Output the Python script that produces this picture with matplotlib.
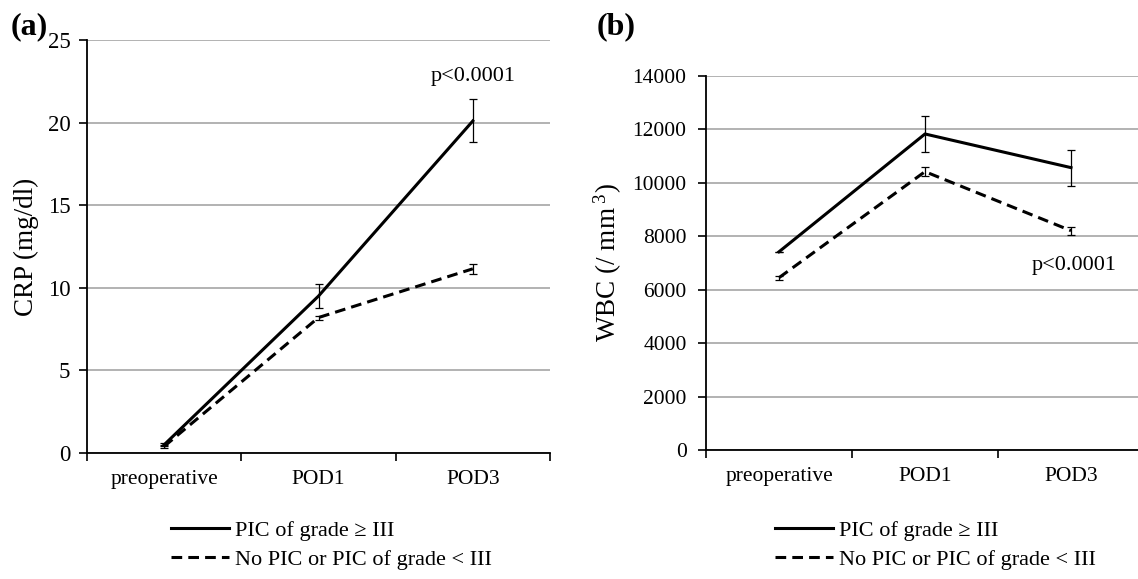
import matplotlib
matplotlib.use("Agg")
import matplotlib.pyplot as plt
import numpy as np

plt.rcParams['font.family'] = ['Liberation Serif', 'DejaVu Serif']
plt.rcParams['mathtext.fontset'] = 'custom'
plt.rcParams['mathtext.rm'] = 'Liberation Serif'
plt.rcParams['mathtext.it'] = 'Liberation Serif:italic'

categories = ["preoperative", "POD1", "POD3"]
series_labels = ["PIC of grade \u2265 III", "No PIC or PIC of grade < III"]

crp_high = [0.5, 9.5, 20.1]
crp_high_err = [0.1, 0.7, 1.3]
crp_low = [0.4, 8.2, 11.15]
crp_low_err = [0.1, 0.12, 0.3]

wbc_high = [7420, 11830, 10570]
wbc_high_err = [0, 680, 675]
wbc_low = [6450, 10420, 8210]
wbc_low_err = [70, 180, 150]

crp_ticks = [0, 5, 10, 15, 20, 25]
wbc_ticks = [0, 2000, 4000, 6000, 8000, 10000, 12000, 14000]

fig = plt.figure(figsize=(11.38, 5.79), dpi=100)
W, H = 1138, 579

def axes_px(l, r, t, b):
    return fig.add_axes([l / W, 1 - b / H, (r - l) / W, (b - t) / H])

ax_a = axes_px(87, 550, 40, 453)
ax_b = axes_px(706, 1144, 76, 450)

def style(ax, ticks, tick_fs, ypad):
    x = np.arange(len(categories)) + 0.5
    ax.set_xlim(0, len(categories))
    ax.set_ylim(ticks[0], ticks[-1])
    ax.set_yticks(ticks)
    ax.set_yticklabels([str(t) for t in ticks], fontsize=tick_fs)
    ax.set_xticks(np.arange(len(categories) + 1))
    ax.set_xticklabels([])
    ax.set_xticks(x, minor=True)
    ax.set_xticklabels(categories, minor=True, fontsize=15.5)
    ax.tick_params(axis='x', which='minor', length=0, pad=12)
    ax.tick_params(axis='x', which='major', length=6, width=1.2, direction='out')
    ax.tick_params(axis='y', length=6, width=1.2, direction='out', pad=ypad)
    ax.grid(axis='y', color='#a6a6a6', linewidth=1.2)
    ax.set_axisbelow(True)
    for s in ['top', 'right']:
        ax.spines[s].set_visible(False)
    for s in ['left', 'bottom']:
        ax.spines[s].set_linewidth(1.3)
        ax.spines[s].set_zorder(3)
    return x

dash = (0, (3.5, 2))
eb = dict(fmt='none', ecolor='black', elinewidth=0.9, capsize=3, capthick=0.9, zorder=5)

x = style(ax_a, crp_ticks, 16.5, 6)
la, = ax_a.plot(x, crp_high, color='black', lw=2.2, ls='-', label=series_labels[0], zorder=4)
lb, = ax_a.plot(x, crp_low, color='black', lw=2.2, ls=dash, label=series_labels[1], zorder=4)
ax_a.errorbar(x, crp_high, yerr=crp_high_err, **eb)
ax_a.errorbar(x, crp_low, yerr=crp_low_err, **eb)
ax_a.set_ylabel("CRP (mg/dl)", fontsize=19.5, labelpad=6)
ax_a.text(x[2], 22.8, "p<0.0001", ha='center', va='center', fontsize=16)

x = style(ax_b, wbc_ticks, 15.5, 8)
ax_b.plot(x, wbc_high, color='black', lw=2.2, ls='-', zorder=4)
ax_b.plot(x, wbc_low, color='black', lw=2.2, ls=dash, zorder=4)
ax_b.errorbar(x, wbc_high, yerr=wbc_high_err, **eb)
ax_b.errorbar(x, wbc_low, yerr=wbc_low_err, **eb)
ax_b.set_ylabel(r"WBC (/ mm$^{\ 3}$)", fontsize=19.5, labelpad=6)
ax_b.text(x[2] + 0.02, 6900, "p<0.0001", ha='center', va='center', fontsize=16)

for lx in [172, 776]:
    fig.legend(handles=[la, lb], labels=series_labels, loc='center left',
               bbox_to_anchor=((lx - 10) / W, 1 - 545 / H), frameon=False,
               fontsize=16, handlelength=2.6, handletextpad=0.3, labelspacing=0.4,
               borderaxespad=0)

fig.text(11 / W, 1 - 27 / H, "(a)", fontsize=23, fontweight='bold', va='center', ha='left')
fig.text(597 / W, 1 - 27 / H, "(b)", fontsize=23, fontweight='bold', va='center', ha='left')

fig.savefig("out.png", dpi=100)
